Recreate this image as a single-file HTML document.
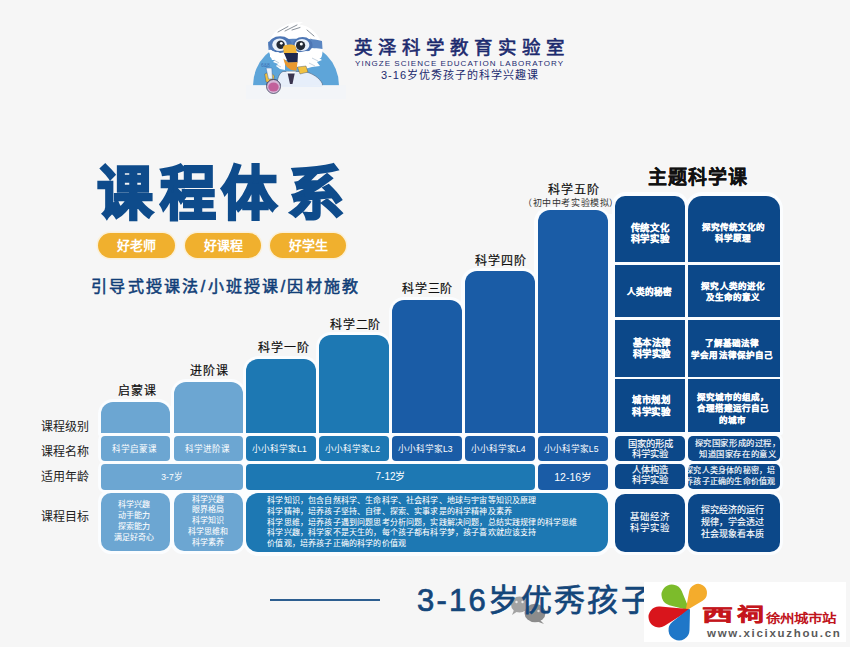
<!DOCTYPE html>
<html lang="zh-CN"><head><meta charset="utf-8">
<style>
*{margin:0;padding:0;box-sizing:border-box}
html,body{width:850px;height:647px;overflow:hidden;background:#f6f6f6}
body{position:relative;font-family:"Liberation Sans",sans-serif}
.a{position:absolute}
.h{position:absolute;background:#fbfdff}
.c{position:absolute;display:flex;align-items:center;justify-content:center;text-align:center;color:#fff;white-space:nowrap}
.lb{position:absolute;font-size:12px;font-weight:500;-webkit-text-stroke:0.2px #111;color:#111;line-height:13px;white-space:nowrap;text-align:center;letter-spacing:0.9px;text-indent:0.9px}
.rl{position:absolute;left:41px;font-size:12px;line-height:12px;color:#222;white-space:nowrap}
</style></head><body>
<!-- header logo -->
<svg class="a" style="left:245px;top:15px" width="110" height="85" viewBox="245 15 110 85">
  <path d="M253 85.5 A43 43 0 0 1 339 85.5 Z" fill="#5ea5d9"/>
  <!-- head crest -->
  <path d="M269 52 C267 40 274 30 284 26 C289 23 296 21.5 303 22 L299 24.5 C310 26 318 33 321 42 C323 48 323 54 321 58 L300 60 L272 60 Z" fill="#fff"/>
  <path d="M278 32 L288 26.5 M285 31 L297 25 M292 30 L300 27.5 M307 30 L314 36 M311 39 L318 45" stroke="#55606e" stroke-width="0.7" fill="none" stroke-linecap="round"/>
  <!-- goggle band -->
  <path d="M268 42 C278 38 312 38 322 41 L322.5 49 C312 47 278 48 268.5 50 Z" fill="#5a86c2"/>
  <ellipse cx="280.2" cy="44.6" rx="11.5" ry="8.4" fill="#4d76b4"/>
  <ellipse cx="302.6" cy="45" rx="10" ry="7.9" fill="#4d76b4"/>
  <ellipse cx="279.6" cy="44.8" rx="7.4" ry="6.3" fill="#e9f0fa"/>
  <ellipse cx="302" cy="45" rx="7.4" ry="6.1" fill="#e9f0fa"/>
  <circle cx="280.6" cy="44.8" r="4.2" fill="#232a36"/>
  <circle cx="300.6" cy="45.6" r="4.6" fill="#232a36"/>
  <circle cx="281.3" cy="43.3" r="1.4" fill="#fff"/>
  <circle cx="301.3" cy="43.9" r="1.5" fill="#fff"/>
  <!-- beards -->
  <path d="M270 53 L278 52 L285 56 L285 70 L280 69 L276 66 L278 64 L273 62 L275 60 L270 57 Z" fill="#fff"/>
  <path d="M296 53 L306 51 L316 52 L321 54 L318 57 L322 60 L317 62 L320 66 L312 67 L305 69 L297 67 Z" fill="#fff"/>
  <path d="M274 60 L279 63 M277 65 L281 67 M312 58 L318 61 M309 63 L315 66" stroke="#8fa4bd" stroke-width="0.5"/>
  <!-- beak -->
  <path d="M283 47 C285 44 292 44 295.5 46 L297 54 L284 54 Z" fill="#f1b53a"/>
  <path d="M284 53 L298 53 L297.5 62.5 L288 62.5 Z" fill="#1f2850"/>
  <path d="M283.5 58.5 C284.5 66 289 71 296.5 70.5 L297.5 62 L288 62.5 Z" fill="#e9982f"/>
  <!-- coat -->
  <path d="M277 86 C277 79 279 73 283 71.5 L304.4 71.5 C312 73 320 78 322.5 84 L322 86.5 Z" fill="#e6eefa" stroke="#3d4c66" stroke-width="0.5"/>
  <path d="M286 71.5 L296 71.5 L291 76 Z" fill="#fff"/>
  <path d="M287.7 73.5 L294.7 73.5 L292.5 84 L290 84 Z" fill="#3a3550"/>
  <path d="M297.4 67 L306 66 L308 72 L300 74 Z" fill="#f1c242" stroke="#3d4c66" stroke-width="0.4"/>
  <!-- flask + hand -->
  <path d="M264.7 74 L270 71.5 L274.4 76 L273 83 L266 82 Z" fill="#f1c242" stroke="#3d4c66" stroke-width="0.4"/>
  <path d="M266 68 L271.8 68 L272.5 79 L268.5 79 Z" fill="#eef3fa" stroke="#3d6fb0" stroke-width="0.5"/>
  <circle cx="273.5" cy="86.5" r="7" fill="#d6b8d8" stroke="#2d3550" stroke-width="0.7"/>
  <ellipse cx="273.5" cy="87" rx="5.2" ry="4.6" fill="#c2609b"/>
  <text x="261" y="66.5" font-size="5" fill="#3d6fb5" font-family="Liberation Sans">6&amp;8</text>
  <rect x="246" y="85.3" width="100" height="14" fill="#f3f5f8"/>
  <circle cx="273.5" cy="86.5" r="7" fill="#d6b8d8" stroke="#2d3550" stroke-width="0.7" clip-path="none"/>
  <ellipse cx="273.5" cy="87" rx="5.2" ry="4.6" fill="#c2609b"/>
  <path d="M281 85.3 L322 85.3 L322 87 L281 87 Z" fill="#e6eefa"/>
</svg>

<div class="a" style="left:354px;top:36px;font-size:18.5px;line-height:24px;letter-spacing:5.0px;color:#1c2a6e;font-weight:500;-webkit-text-stroke:0.6px #1c2a6e;white-space:nowrap">英泽科学教育实验室</div>
<div class="a" style="left:355px;top:59px;font-size:8px;line-height:9px;letter-spacing:1.05px;color:#1c2a6e;white-space:nowrap">YINGZE SCIENCE EDUCATION LABORATORY</div>
<div class="a" style="left:381px;top:69px;font-size:11px;line-height:13px;letter-spacing:1px;color:#1c2a6e;white-space:nowrap;font-weight:500">3-16岁优秀孩子的科学兴趣课</div>

<!-- title -->
<div class="a" style="left:96.8px;top:161.5px;font-size:56px;line-height:62px;font-weight:900;color:#0e4b8b;white-space:nowrap;-webkit-text-stroke:2.4px #0e4b8b;transform:scaleY(1.04);transform-origin:0 0">课</div><div class="a" style="left:159.8px;top:161.5px;font-size:56px;line-height:62px;font-weight:900;color:#0e4b8b;white-space:nowrap;-webkit-text-stroke:2.4px #0e4b8b;transform:scaleY(1.04);transform-origin:0 0">程</div><div class="a" style="left:221px;top:161.5px;font-size:56px;line-height:62px;font-weight:900;color:#0e4b8b;white-space:nowrap;-webkit-text-stroke:2.4px #0e4b8b;transform:scaleY(1.04);transform-origin:0 0">体</div><div class="a" style="left:287.5px;top:161.5px;font-size:56px;line-height:62px;font-weight:900;color:#0e4b8b;white-space:nowrap;-webkit-text-stroke:2.4px #0e4b8b;transform:scaleY(1.04);transform-origin:0 0">系</div>

<!-- pills -->
<div class="a" style="left:98px;top:233px;width:77px;height:25px;border-radius:13px;background:#f0b02e;box-shadow:0 0 0 1.5px #fbf0d8;color:#fff;font-size:13px;font-weight:bold;line-height:25px;text-align:center">好老师</div>
<div class="a" style="left:185px;top:233px;width:76px;height:25px;border-radius:13px;background:#f0b02e;box-shadow:0 0 0 1.5px #fbf0d8;color:#fff;font-size:13px;font-weight:bold;line-height:25px;text-align:center">好课程</div>
<div class="a" style="left:270px;top:233px;width:76px;height:25px;border-radius:13px;background:#f0b02e;box-shadow:0 0 0 1.5px #fbf0d8;color:#fff;font-size:13px;font-weight:bold;line-height:25px;text-align:center">好学生</div>

<div class="a" style="left:91px;top:275.5px;font-size:16px;line-height:22px;letter-spacing:2.3px;font-weight:500;-webkit-text-stroke:0.55px #123f78;color:#123f78;white-space:nowrap">引导式授课法/小班授课/因材施教</div>



<!-- bar labels -->
<div class="lb" style="left:102.5px;top:385px;width:69.3px">启蒙课</div>
<div class="lb" style="left:174.5px;top:364.8px;width:69px">进阶课</div>
<div class="lb" style="left:248.6px;top:341.6px;width:70.2px">科学一阶</div>
<div class="lb" style="left:320px;top:318.5px;width:70.3px">科学二阶</div>
<div class="lb" style="left:392.1px;top:282.5px;width:70px">科学三阶</div>
<div class="lb" style="left:465.1px;top:254.7px;width:70.5px">科学四阶</div>
<div class="lb" style="left:538.5px;top:184.2px;width:70.3px">科学五阶</div>
<div class="a" style="left:518px;top:198px;width:106px;text-align:center;font-size:9px;line-height:10px;color:#333;white-space:nowrap;font-weight:300;letter-spacing:0.55px">（初中中考实验模拟）</div>

<!-- row labels -->
<div class="rl" style="top:421px">课程级别</div>
<div class="rl" style="top:446px">课程名称</div>
<div class="rl" style="top:471px">适用年龄</div>
<div class="rl" style="top:511px">课程目标</div>

<div class="lb" style="left:615px;top:167px;width:165px;font-size:19px;line-height:22px;font-weight:bold;-webkit-text-stroke:0.2px #111;letter-spacing:1.1px">主题科学课</div>

<!-- halo -->
<div class="h" style="left:105px;top:426px;width:671px;height:121px"></div>
<div class="h" style="left:606px;top:214px;width:11px;height:334px"></div>
<div class="h" style="left:97.8px;top:398.8px;width:75.7px;height:37.1px;border-radius:15.2px 15.2px 1.92px 1.92px"></div>
<div class="h" style="left:170.8px;top:378.8px;width:75.4px;height:57.1px;border-radius:15.2px 15.2px 1.92px 1.92px"></div>
<div class="h" style="left:242.8px;top:355.8px;width:76.6px;height:80.1px;border-radius:15.2px 15.2px 1.92px 1.92px"></div>
<div class="h" style="left:315.8px;top:332.2px;width:76.7px;height:103.7px;border-radius:15.2px 15.2px 1.92px 1.92px"></div>
<div class="h" style="left:388.6px;top:296.8px;width:76.4px;height:139.1px;border-radius:15.2px 15.2px 1.92px 1.92px"></div>
<div class="h" style="left:461.3px;top:267.8px;width:76.9px;height:168.1px;border-radius:15.2px 15.2px 1.92px 1.92px"></div>
<div class="h" style="left:534.3px;top:207px;width:76.7px;height:228.9px;border-radius:15.2px 15.2px 1.92px 1.92px"></div>
<div class="h" style="left:97.8px;top:432.8px;width:75.7px;height:31.7px;border-radius:7.2px 7.2px 7.2px 7.2px"></div>
<div class="h" style="left:170.8px;top:432.8px;width:75.4px;height:31.7px;border-radius:7.2px 7.2px 7.2px 7.2px"></div>
<div class="h" style="left:242.8px;top:432.8px;width:76.6px;height:31.7px;border-radius:7.2px 7.2px 7.2px 7.2px"></div>
<div class="h" style="left:315.8px;top:432.8px;width:76.7px;height:31.7px;border-radius:7.2px 7.2px 7.2px 7.2px"></div>
<div class="h" style="left:388.6px;top:432.8px;width:76.4px;height:31.7px;border-radius:7.2px 7.2px 7.2px 7.2px"></div>
<div class="h" style="left:461.3px;top:432.8px;width:76.9px;height:31.7px;border-radius:7.2px 7.2px 7.2px 7.2px"></div>
<div class="h" style="left:534.3px;top:432.8px;width:76.7px;height:31.7px;border-radius:7.2px 7.2px 7.2px 7.2px"></div>
<div class="h" style="left:97.8px;top:461.1px;width:148.4px;height:31.7px;border-radius:7.2px 7.2px 7.2px 7.2px"></div>
<div class="h" style="left:242.8px;top:461.1px;width:295.4px;height:31.7px;border-radius:7.2px 7.2px 7.2px 7.2px"></div>
<div class="h" style="left:534.3px;top:461.1px;width:76.7px;height:31.7px;border-radius:7.2px 7.2px 7.2px 7.2px"></div>
<div class="h" style="left:97.8px;top:489.3px;width:75.7px;height:65.1px;border-radius:13.2px 13.2px 13.2px 13.2px"></div>
<div class="h" style="left:170.3px;top:489.3px;width:75.9px;height:65.1px;border-radius:13.2px 13.2px 13.2px 13.2px"></div>
<div class="h" style="left:243.1px;top:490.1px;width:367.9px;height:65.6px;border-radius:15.2px 15.2px 15.2px 15.2px"></div>
<div class="h" style="left:611.8px;top:192.3px;width:76.4px;height:73.3px;border-radius:13.2px 13.2px 1.92px 1.92px"></div>
<div class="h" style="left:684.8px;top:192.3px;width:98.6px;height:73.3px;border-radius:17.2px 17.2px 1.92px 1.92px"></div>
<div class="h" style="left:611.8px;top:261.8px;width:76.4px;height:58.4px;border-radius:1.92px 1.92px 1.92px 1.92px"></div>
<div class="h" style="left:684.8px;top:261.8px;width:98.6px;height:58.4px;border-radius:1.92px 1.92px 1.92px 1.92px"></div>
<div class="h" style="left:611.8px;top:316.8px;width:76.4px;height:63.1px;border-radius:1.92px 1.92px 1.92px 1.92px"></div>
<div class="h" style="left:684.8px;top:316.8px;width:98.6px;height:63.1px;border-radius:1.92px 1.92px 1.92px 1.92px"></div>
<div class="h" style="left:611.8px;top:376.1px;width:76.4px;height:58.8px;border-radius:1.92px 1.92px 1.92px 1.92px"></div>
<div class="h" style="left:684.8px;top:376.1px;width:98.6px;height:58.8px;border-radius:1.92px 1.92px 1.92px 1.92px"></div>
<div class="h" style="left:611.8px;top:432.8px;width:76.4px;height:31.7px;border-radius:8.2px 8.2px 8.2px 8.2px"></div>
<div class="h" style="left:684.8px;top:432.8px;width:98.6px;height:31.7px;border-radius:8.2px 8.2px 8.2px 8.2px"></div>
<div class="h" style="left:611.8px;top:461.1px;width:76.4px;height:31.4px;border-radius:8.2px 8.2px 8.2px 8.2px"></div>
<div class="h" style="left:684.8px;top:461.1px;width:98.6px;height:31.4px;border-radius:8.2px 8.2px 8.2px 8.2px"></div>
<div class="h" style="left:611.8px;top:490.3px;width:76.4px;height:64.9px;border-radius:13.2px 13.2px 13.2px 13.2px"></div>
<div class="h" style="left:684.8px;top:490.3px;width:98.6px;height:64.9px;border-radius:13.2px 13.2px 13.2px 13.2px"></div>
<!-- cells -->
<div class="c" style="left:101px;top:402px;width:69.3px;height:30.7px;border-radius:12px 12px 0px 0px;background:#6ca6d2;"></div>
<div class="c" style="left:174px;top:382px;width:69px;height:50.7px;border-radius:12px 12px 0px 0px;background:#6ca6d2;"></div>
<div class="c" style="left:246px;top:359px;width:70.2px;height:73.7px;border-radius:12px 12px 0px 0px;background:#1d78b3;"></div>
<div class="c" style="left:319px;top:335.4px;width:70.3px;height:97.3px;border-radius:12px 12px 0px 0px;background:#1d78b3;"></div>
<div class="c" style="left:391.8px;top:300px;width:70px;height:132.7px;border-radius:12px 12px 0px 0px;background:#1a5ca6;"></div>
<div class="c" style="left:464.5px;top:271px;width:70.5px;height:161.7px;border-radius:12px 12px 0px 0px;background:#1a5ca6;"></div>
<div class="c" style="left:537.5px;top:210.2px;width:70.3px;height:222.5px;border-radius:12px 12px 0px 0px;background:#1a5ca6;"></div>
<div class="c" style="left:101px;top:436px;width:69.3px;height:25.3px;border-radius:4px 4px 4px 4px;background:#6ca6d2;font-size:8.6px;line-height:10px"><span style="position:relative;left:-1.5px;top:0px">科学启蒙课</span></div>
<div class="c" style="left:174px;top:436px;width:69px;height:25.3px;border-radius:4px 4px 4px 4px;background:#6ca6d2;font-size:8.6px;line-height:10px"><span style="position:relative;left:-1.5px;top:0px">科学进阶课</span></div>
<div class="c" style="left:246px;top:436px;width:70.2px;height:25.3px;border-radius:4px 4px 4px 4px;background:#1d78b3;font-size:8.6px;line-height:10px"><span style="position:relative;left:-1.5px;top:0px">小小科学家L1</span></div>
<div class="c" style="left:319px;top:436px;width:70.3px;height:25.3px;border-radius:4px 4px 4px 4px;background:#1d78b3;font-size:8.6px;line-height:10px"><span style="position:relative;left:-1.5px;top:0px">小小科学家L2</span></div>
<div class="c" style="left:391.8px;top:436px;width:70px;height:25.3px;border-radius:4px 4px 4px 4px;background:#1a5ca6;font-size:8.6px;line-height:10px"><span style="position:relative;left:-1.5px;top:0px">小小科学家L3</span></div>
<div class="c" style="left:464.5px;top:436px;width:70.5px;height:25.3px;border-radius:4px 4px 4px 4px;background:#1a5ca6;font-size:8.6px;line-height:10px"><span style="position:relative;left:-1.5px;top:0px">小小科学家L4</span></div>
<div class="c" style="left:537.5px;top:436px;width:70.3px;height:25.3px;border-radius:4px 4px 4px 4px;background:#1a5ca6;font-size:8.6px;line-height:10px"><span style="position:relative;left:-1.5px;top:0px">小小科学家L5</span></div>
<div class="c" style="left:101px;top:464.3px;width:142px;height:25.3px;border-radius:4px 4px 4px 4px;background:#6ca6d2;font-size:8.6px;line-height:10px"><span style="position:relative;left:0px;top:0px">3-7岁</span></div>
<div class="c" style="left:246px;top:464.3px;width:289px;height:25.3px;border-radius:4px 4px 4px 4px;background:#1d78b3;font-size:10px;line-height:12px"><span style="position:relative;left:0px;top:0px">7-12岁</span></div>
<div class="c" style="left:537.5px;top:464.3px;width:70.3px;height:25.3px;border-radius:4px 4px 4px 4px;background:#1a5ca6;font-size:10.5px;line-height:12px"><span style="position:relative;left:0px;top:0px">12-16岁</span></div>
<div class="c" style="left:101px;top:492.5px;width:69.3px;height:58.7px;border-radius:10px 10px 10px 10px;background:#6ca6d2;font-size:8px;line-height:10.9px;-webkit-text-stroke:0.05px #fff"><span style="position:relative;left:-1.5px;top:0.3px">科学兴趣<br>动手能力<br>探索能力<br>满足好奇心</span></div>
<div class="c" style="left:173.5px;top:492.5px;width:69.5px;height:58.7px;border-radius:10px 10px 10px 10px;background:#6ca6d2;font-size:8px;line-height:10.9px;-webkit-text-stroke:0.05px #fff"><span style="position:relative;left:0px;top:0px">科学兴趣<br>眼界格局<br>科学知识<br>科学思维和<br>科学素养</span></div>
<div class="c" style="left:246.3px;top:493.3px;width:361.5px;height:59.2px;border-radius:12px 12px 12px 12px;background:#1d78b3;font-size:8px;line-height:10.9px;-webkit-text-stroke:0.05px #fff;justify-content:flex-start;text-align:left;padding-left:21px;letter-spacing:0.16px"><span style="position:relative;left:0px;top:0.1px">科学知识，包含自然科学、生命科学、社会科学、地球与宇宙等知识及原理<br>科学精神，培养孩子坚持、自律、探索、实事求是的科学精神及素养<br>科学思维，培养孩子遇到问题思考分析问题，实践解决问题，总结实践规律的科学思维<br>科学兴趣，科学家不是天生的，每个孩子都有科学梦，孩子喜欢就应该支持<br>价值观，培养孩子正确的科学的价值观</span></div>
<div class="c" style="left:615px;top:195.5px;width:70px;height:66.9px;border-radius:10px 10px 0px 0px;background:#0c4889;font-weight:bold;-webkit-text-stroke:0.2px #fff;font-size:9.4px;letter-spacing:0.6px;line-height:11.6px"><span style="position:relative;left:0.1px;top:4.2px">传统文化<br>科学实验</span></div>
<div class="c" style="left:688px;top:195.5px;width:92.2px;height:66.9px;border-radius:14px 14px 0px 0px;background:#0c4889;font-weight:bold;-webkit-text-stroke:0.2px #fff;font-size:8.5px;letter-spacing:0.05px;line-height:11.3px"><span style="position:relative;left:-0.9px;top:4.2px">探究传统文化的<br>科学原理</span></div>
<div class="c" style="left:615px;top:265px;width:70px;height:52px;border-radius:0px 0px 0px 0px;background:#0c4889;font-weight:bold;-webkit-text-stroke:0.2px #fff;font-size:8.6px;letter-spacing:0.05px;line-height:12px"><span style="position:relative;left:-0.3px;top:0.7px">人类的秘密</span></div>
<div class="c" style="left:688px;top:265px;width:92.2px;height:52px;border-radius:0px 0px 0px 0px;background:#0c4889;font-weight:bold;-webkit-text-stroke:0.2px #fff;font-size:8.5px;letter-spacing:0.05px;line-height:10.4px"><span style="position:relative;left:-1px;top:0.6px">探究人类的进化<br>及生命的意义</span></div>
<div class="c" style="left:615px;top:320px;width:70px;height:56.7px;border-radius:0px 0px 0px 0px;background:#0c4889;font-weight:bold;-webkit-text-stroke:0.2px #fff;font-size:9.4px;letter-spacing:0.6px;line-height:11.3px"><span style="position:relative;left:1.8px;top:-0.4px">基本法律<br>科学实验</span></div>
<div class="c" style="left:688px;top:320px;width:92.2px;height:56.7px;border-radius:0px 0px 0px 0px;background:#0c4889;font-weight:bold;-webkit-text-stroke:0.2px #fff;font-size:8.5px;letter-spacing:0.05px;line-height:11.3px"><span style="position:relative;left:-2px;top:1.4px">了解基础法律<br>学会用法律保护自己</span></div>
<div class="c" style="left:615px;top:379.3px;width:70px;height:52.4px;border-radius:0px 0px 0px 0px;background:#0c4889;font-weight:bold;-webkit-text-stroke:0.2px #fff;font-size:9.4px;letter-spacing:0.6px;line-height:12px"><span style="position:relative;left:1.5px;top:0.9px">城市规划<br>科学实验</span></div>
<div class="c" style="left:688px;top:379.3px;width:92.2px;height:52.4px;border-radius:0px 0px 0px 0px;background:#0c4889;font-weight:bold;-webkit-text-stroke:0.2px #fff;font-size:8.5px;letter-spacing:0.05px;line-height:11.2px"><span style="position:relative;left:-1.4px;top:3.6px">探究城市的组成，<br>合理搭建运行自己<br>的城市</span></div>
<div class="c" style="left:615px;top:436px;width:70px;height:25.3px;border-radius:5px 5px 5px 5px;background:#0c4889;font-size:9.3px;line-height:10px;-webkit-text-stroke:0.15px #fff"><span style="position:relative;left:0.3px;top:0.3px">国家的形成<br>科学实验</span></div>
<div class="c" style="left:688px;top:436px;width:92.2px;height:25.3px;border-radius:5px 5px 5px 5px;background:#0c4889;font-size:8.3px;line-height:10.9px;letter-spacing:0.6px;-webkit-text-stroke:0.15px #fff"><span style="position:relative;left:3.6px;top:0.6px">探究国家形成的过程，<br>知道国家存在的意义</span></div>
<div class="c" style="left:615px;top:464.3px;width:70px;height:25px;border-radius:5px 5px 5px 5px;background:#0c4889;font-size:9.3px;line-height:10.4px;-webkit-text-stroke:0.15px #fff"><span style="position:relative;left:0px;top:-1.8px">人体构造<br>科学实验</span></div>
<div class="c" style="left:688px;top:464.3px;width:92.2px;height:25px;border-radius:5px 5px 5px 5px;background:#0c4889;font-size:8px;line-height:10.4px;letter-spacing:0.2px;-webkit-text-stroke:0.15px #fff"><span style="position:relative;left:-3.7px;top:-0.1px">探究人类身体的秘密，培<br>养孩子正确的生命价值观</span></div>
<div class="c" style="left:615px;top:493.5px;width:70px;height:58.5px;border-radius:10px 10px 10px 10px;background:#0c4889;font-size:9.4px;letter-spacing:0.8px;line-height:10.6px;-webkit-text-stroke:0.1px #fff"><span style="position:relative;left:-0.1px;top:0px">基础经济<br>科学实验</span></div>
<div class="c" style="left:688px;top:493.5px;width:92.2px;height:58.5px;border-radius:10px 10px 10px 10px;background:#0c4889;font-size:9px;line-height:12px;-webkit-text-stroke:0.15px #fff"><span style="position:relative;left:-1.5px;top:-0.75px">探究经济的运行<br>规律，学会透过<br>社会现象看本质</span></div>

<!-- wechat watermark -->
<svg class="a" style="left:505px;top:590px" width="50" height="40" viewBox="505 590 50 40">
  <ellipse cx="519.5" cy="604.5" rx="8.5" ry="8" fill="#a3a3a3"/>
  <path d="M514 610 L512 615 L518 611 Z" fill="#a3a3a3"/>
  <ellipse cx="535" cy="613" rx="10.5" ry="9.3" fill="#8c8c8c"/>
  <path d="M540 620 L544 624 L536 621 Z" fill="#8c8c8c"/>
  <circle cx="516.5" cy="602" r="1.2" fill="#eee"/><circle cx="522.5" cy="602" r="1.2" fill="#eee"/>
  <circle cx="531.5" cy="611" r="1.2" fill="#ddd"/><circle cx="538.5" cy="611" r="1.2" fill="#ddd"/>
</svg>

<!-- bottom -->
<div class="a" style="left:270px;top:599px;width:110px;height:1.5px;background:#2d5e90"></div>
<div class="a" style="left:417px;top:581px;font-size:31px;line-height:40px;letter-spacing:2.2px;font-weight:500;-webkit-text-stroke:0.7px #14467a;color:#14467a;white-space:nowrap">3-16岁优秀孩子</div>

<!-- xici logo -->
<div class="a" style="left:644px;top:582px;width:202px;height:60px;background:#fff"></div>
<svg class="a" style="left:644px;top:582px" width="65" height="60" viewBox="644 582 65 60">
  <path d="M688.0 609.0 L680.8 591.4 A9.5 9.5 0 1 0 669.6 604.2 Z" fill="#7cbc2b" stroke="#7cbc2b" stroke-width="2" stroke-linejoin="round"/>
  <path d="M687.0 609.0 L702.1 599.8 A8 8 0 1 0 690.1 591.6 Z" fill="#f4ac2c" stroke="#f4ac2c" stroke-width="2" stroke-linejoin="round"/>
  <path d="M688.0 610.0 L659.8 607.5 A9.5 9.5 0 1 0 664.1 625.0 Z" fill="#d9151c" stroke="#d9151c" stroke-width="2" stroke-linejoin="round"/>
  <path d="M689.0 610.0 L673.1 622.5 A9.5 9.5 0 1 0 688.5 630.2 Z" fill="#1f77c8" stroke="#1f77c8" stroke-width="2" stroke-linejoin="round"/>
</svg>
<div class="a" style="left:702px;top:604px;width:36px;height:30px;font-size:25px;line-height:30px;font-weight:bold;color:#c4161c;-webkit-text-stroke:0.8px #c4161c;white-space:nowrap;transform:scale(1.24,0.695);transform-origin:0 0">西</div>
<div class="a" style="left:737px;top:603px;width:30px;height:30px;font-size:25px;line-height:30px;font-weight:bold;color:#c4161c;-webkit-text-stroke:0.8px #c4161c;white-space:nowrap;transform:scale(1.076,0.74);transform-origin:0 0">祠</div>
<div class="a" style="left:766px;top:609px;font-size:14.5px;line-height:17px;font-weight:bold;color:#c0141c;white-space:nowrap;transform:scaleY(0.85);transform-origin:0 100%">徐州城市站</div>
<div class="a" style="left:707px;top:627px;font-size:11.5px;line-height:13px;letter-spacing:1.7px;color:#5a5a5a;font-weight:bold;white-space:nowrap">www.xicixuzhou.cn</div>


</body></html>
